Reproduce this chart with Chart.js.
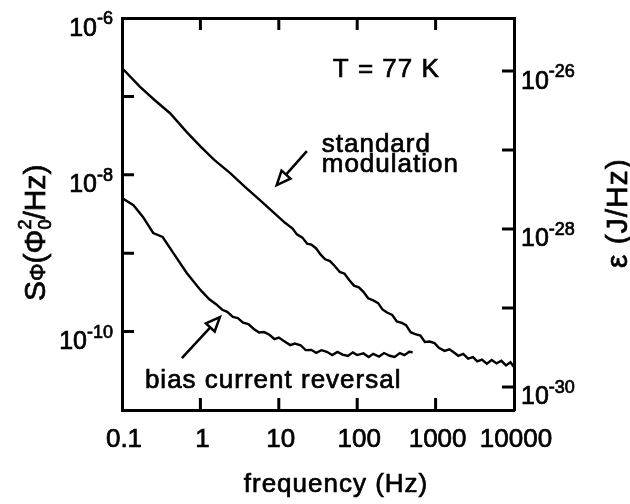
<!DOCTYPE html>
<html>
<head>
<meta charset="utf-8">
<script src="https://cdn.jsdelivr.net/npm/chart.js@4"></script>
<style>
  html, body { margin: 0; padding: 0; background: #fff; }
</style>
</head>
<body>
<canvas id="chart" width="630" height="504"></canvas>
<script>
const FONT = "'Liberation Sans', Arial, Helvetica, sans-serif";

// frequency axis (Hz)
const freqTicks = [0.1, 1, 10, 100, 1000, 10000];
const freqLabels = ["0.1", "1", "10", "100", "1000", "10000"];

// left axis: flux noise S_phi (Phi0^2/Hz), one tick per decade, label every other one
const fluxTicks = [1e-6, 1e-7, 1e-8, 1e-9, 1e-10, 1e-11];
const fluxLabelExps = [-6, -8, -10];
const fluxRange = [1e-11, 1e-6];

// right axis: energy resolution (J/Hz)
const energyTicks = [1e-26, 1e-27, 1e-28, 1e-29, 1e-30];
const energyLabelExps = [-26, -28, -30];
const energyRange = [5.1e-31, 4.7e-26];

// standard modulation trace
const stdFreq = [0.1, 0.17, 0.26, 0.41, 0.67, 1.0, 1.5, 2.4, 3.7, 5.7, 8.9, 12,
  15, 17, 20, 23, 26, 30, 34, 39, 45, 52, 60, 69, 79, 91, 105, 120, 138, 160, 185, 210,
  240, 280, 320, 370, 420, 480, 550, 640, 730, 840, 970, 1100, 1300, 1500, 1700, 1950,
  2250, 2600, 3000, 3400, 3900, 4500, 5200, 6000, 6900, 7900, 9000, 10000];
const stdNoise = [2.3e-7, 1.32e-7, 9.0e-8, 6.1e-8, 3.5e-8, 2.3e-8, 1.55e-8, 1.05e-8, 7.0e-9, 4.8e-9, 3.2e-9, 2.44e-9,
  2.06e-9, 1.74e-9, 1.58e-9, 1.32e-9, 1.29e-9, 1.15e-9, 9.66e-10, 8.37e-10, 7.93e-10, 6.82e-10,
  5.77e-10, 5.48e-10, 4.56e-10, 3.86e-10, 3.67e-10, 3.21e-10, 2.66e-10, 2.50e-10, 2.31e-10, 1.92e-10,
  1.75e-10, 1.63e-10, 1.35e-10, 1.29e-10, 1.21e-10, 9.82e-11, 9.29e-11, 8.89e-11, 7.36e-11, 7.46e-11,
  7.14e-11, 6.22e-11, 5.68e-11, 5.94e-11, 5.46e-11, 4.91e-11, 5.19e-11, 4.51e-11, 4.72e-11, 4.16e-11,
  4.39e-11, 3.90e-11, 4.34e-11, 3.93e-11, 4.24e-11, 3.71e-11, 4.07e-11, 3.52e-11];

// bias current reversal trace
const biasFreq = [0.1, 0.14, 0.185, 0.25, 0.33, 0.45, 0.67, 1.0, 1.3, 1.6,
  1.9, 2.2, 2.6, 3.0, 3.5, 4.1, 4.8, 5.6, 6.5, 7.6,
  8.8, 10, 12, 14, 16, 19, 22, 26, 30, 35,
  41, 48, 56, 65, 76, 88, 100, 120, 140, 160,
  190, 220, 260, 300, 350, 400, 460, 510];
const biasNoise = [5.06e-9, 4.1e-9, 2.9e-9, 1.81e-9, 1.61e-9, 1.01e-9, 5.6e-10, 3.4e-10, 2.58e-10, 2.22e-10,
  1.90e-10, 1.79e-10, 1.54e-10, 1.49e-10, 1.30e-10, 1.25e-10, 1.08e-10, 9.72e-11, 9.86e-11, 9.12e-11,
  8.02e-11, 8.39e-11, 7.43e-11, 6.73e-11, 7.03e-11, 6.70e-11, 5.81e-11, 5.85e-11, 5.35e-11, 5.79e-11,
  5.53e-11, 5.01e-11, 5.51e-11, 5.09e-11, 4.88e-11, 5.43e-11, 5.02e-11, 5.27e-11, 4.75e-11, 5.21e-11,
  4.81e-11, 5.33e-11, 4.92e-11, 4.75e-11, 5.32e-11, 5.00e-11, 5.52e-11, 5.46e-11];

// annotations, placed in data coordinates [Hz, Phi0^2/Hz]
const notes = [
  { text: "T = 77 K", at: [48.8, 1.77e-7] },
  { text: "standard", at: [35.3, 1.95e-8] },
  { text: "modulation", at: [35.3, 1.09e-8] },
  { text: "bias current reversal", at: [0.196, 1.91e-11] },
];
const arrows = [
  { from: [22.8, 2.0e-8], to: [9.4, 7.4e-9] },
  { from: [0.58, 4.6e-11], to: [1.77, 1.53e-10] },
];

const toXY = (fs, vs) => fs.map((f, i) => ({ x: f, y: vs[i] }));

const TICK = 12;

// scanned lettering is heavier than the regular face, so stroke it lightly too
function heavy(ctx, text, x, y) {
  ctx.fillText(text, x, y);
  ctx.lineWidth = 0.7;
  ctx.strokeText(text, x, y);
}

function supLabel(ctx, exp, x, y, align) {
  ctx.font = `25px ${FONT}`;
  const wBase = ctx.measureText("10").width;
  ctx.font = `18px ${FONT}`;
  const sup = "-" + Math.abs(exp);
  const wSup = ctx.measureText(sup).width;
  const x0 = align === "right" ? x - wBase - wSup : x;
  ctx.textAlign = "left";
  ctx.textBaseline = "alphabetic";
  ctx.font = `25px ${FONT}`;
  heavy(ctx, "10", x0, y + 17.5);
  ctx.font = `18px ${FONT}`;
  heavy(ctx, sup, x0 + wBase, y + 6);
}

function richText(ctx, parts, x, y) {
  ctx.save();
  ctx.translate(x, y);
  ctx.rotate(-Math.PI / 2);
  ctx.textAlign = "left";
  ctx.textBaseline = "alphabetic";
  let cx = 0;
  parts.forEach(p => {
    ctx.font = `${p.size}px ${FONT}`;
    heavy(ctx, p.text, cx, p.dy || 0);
    if (!p.keep) cx += ctx.measureText(p.text).width;
  });
  ctx.restore();
}

function arrow(ctx, x0, y0, x1, y1) {
  const a = Math.atan2(y1 - y0, x1 - x0);
  const len = 14, half = 6;
  const bx = x1 - len * Math.cos(a), by = y1 - len * Math.sin(a);
  ctx.beginPath();
  ctx.moveTo(x0, y0);
  ctx.lineTo(bx, by);
  ctx.stroke();
  ctx.beginPath();
  ctx.moveTo(x1, y1);
  ctx.lineTo(bx + half * Math.sin(a), by - half * Math.cos(a));
  ctx.lineTo(bx - half * Math.sin(a), by + half * Math.cos(a));
  ctx.closePath();
  ctx.fillStyle = "#fff";
  ctx.fill();
  ctx.stroke();
}

const decorations = {
  id: "decorations",
  afterDraw(chart) {
    const { ctx, chartArea: a, scales } = chart;
    const x = scales.x, y = scales.y, yR = scales.yR;
    ctx.save();
    ctx.strokeStyle = "#000";
    ctx.fillStyle = "#000";
    ctx.lineWidth = 3;

    // inward ticks
    ctx.beginPath();
    freqTicks.slice(1, -1).forEach(v => {
      const px = x.getPixelForValue(v);
      ctx.moveTo(px, a.bottom); ctx.lineTo(px, a.bottom - TICK);
      ctx.moveTo(px, a.top); ctx.lineTo(px, a.top + TICK);
    });
    fluxTicks.slice(1, -1).forEach(v => {
      const py = y.getPixelForValue(v);
      ctx.moveTo(a.left, py); ctx.lineTo(a.left + TICK, py);
    });
    energyTicks.forEach(v => {
      const py = yR.getPixelForValue(v);
      ctx.moveTo(a.right, py); ctx.lineTo(a.right - TICK, py);
    });
    ctx.stroke();

    // frequency labels
    ctx.font = `26px ${FONT}`;
    ctx.textAlign = "center";
    ctx.textBaseline = "alphabetic";
    freqTicks.forEach((v, i) => heavy(ctx, freqLabels[i], x.getPixelForValue(v) + 2, a.bottom + 37));

    // power-of-ten labels
    fluxLabelExps.forEach(e => supLabel(ctx, e, a.left - 9, y.getPixelForValue(Math.pow(10, e)), "right"));
    energyLabelExps.forEach(e => supLabel(ctx, e, a.right + 7, yR.getPixelForValue(Math.pow(10, e)), "left"));

    // axis titles
    richText(ctx, [
      { text: "S", size: 30 },
      { text: "Φ", size: 22 },
      { text: "(Φ", size: 30 },
      { text: "0", size: 18, dy: 6, keep: true },
      { text: "2", size: 18, dy: -14 },
      { text: "/Hz)", size: 30 },
    ], 45, 301);
    ctx.letterSpacing = "1px";
    richText(ctx, [{ text: "ε (J/Hz)", size: 30 }], 627, 268);

    ctx.font = `26px ${FONT}`;
    ctx.textAlign = "center";
    ctx.textBaseline = "alphabetic";
    heavy(ctx, "frequency (Hz)", 336, 492);

    // annotations
    ctx.textAlign = "left";
    notes.forEach(n => {
      heavy(ctx, n.text, x.getPixelForValue(n.at[0]), y.getPixelForValue(n.at[1]));
    });
    ctx.letterSpacing = "0px";

    ctx.lineWidth = 2.5;
    arrows.forEach(r => {
      ctx.fillStyle = "#000";
      arrow(ctx,
        x.getPixelForValue(r.from[0]), y.getPixelForValue(r.from[1]),
        x.getPixelForValue(r.to[0]), y.getPixelForValue(r.to[1]));
    });
    ctx.restore();
  }
};

const lineStyle = {
  borderColor: "#000",
  borderWidth: 2.4,
  pointRadius: 0,
  tension: 0,
  fill: false,
};

new Chart(document.getElementById("chart"), {
  type: "line",
  data: {
    datasets: [
      { label: "standard modulation", data: toXY(stdFreq, stdNoise), yAxisID: "y", ...lineStyle },
      { label: "bias current reversal", data: toXY(biasFreq, biasNoise), yAxisID: "y", ...lineStyle },
    ],
  },
  options: {
    responsive: false,
    animation: false,
    devicePixelRatio: 1,
    layout: { padding: 0 },
    plugins: { legend: { display: false }, tooltip: { enabled: false } },
    scales: {
      x: {
        type: "logarithmic",
        position: "bottom",
        min: freqTicks[0],
        max: freqTicks[freqTicks.length - 1],
        afterBuildTicks: s => { s.ticks = freqTicks.map(v => ({ value: v })); },
        afterFit: s => { s.height = 94; },
        ticks: { display: false },
        grid: { display: false, drawTicks: false },
        border: { display: true, color: "#000", width: 3 },
      },
      xTop: {
        type: "logarithmic",
        position: "top",
        min: freqTicks[0],
        max: freqTicks[freqTicks.length - 1],
        afterFit: s => { s.height = 18; },
        ticks: { display: false },
        grid: { display: false, drawTicks: false },
        border: { display: true, color: "#000", width: 3 },
      },
      y: {
        type: "logarithmic",
        position: "left",
        min: fluxRange[0],
        max: fluxRange[1],
        afterFit: s => { s.width = 122; },
        ticks: { display: false },
        grid: { display: false, drawTicks: false },
        border: { display: true, color: "#000", width: 3 },
      },
      yR: {
        type: "logarithmic",
        position: "right",
        min: energyRange[0],
        max: energyRange[1],
        afterFit: s => { s.width = 116; },
        ticks: { display: false },
        grid: { display: false, drawTicks: false },
        border: { display: true, color: "#000", width: 3 },
      },
    },
  },
  plugins: [decorations],
});
</script>
</body>
</html>
